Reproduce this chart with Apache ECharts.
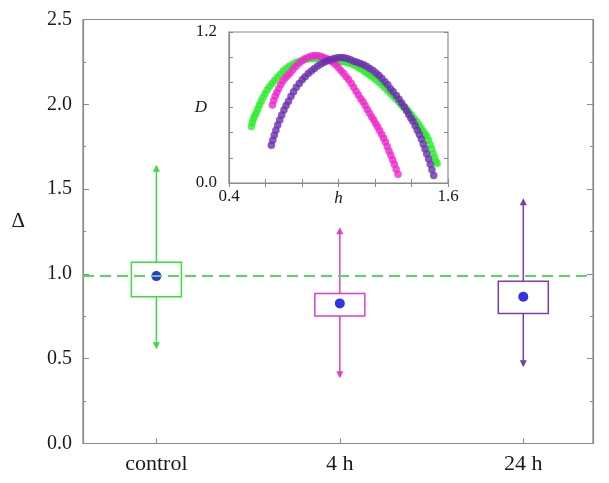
<!DOCTYPE html>
<html>
<head>
<meta charset="utf-8">
<script src="https://cdn.jsdelivr.net/npm/echarts@6/dist/echarts.min.js"></script>
<style>
  html, body { margin: 0; padding: 0; background: #fff; }
  #chart { width: 609px; height: 483px; }
</style>
</head>
<body>
<div id="chart"></div>
<script>
// main panel: groups at x = 1, 2, 3
const groups = ['control', '4 h', '24 h'];
const groupX = [1, 2, 3];
const whiskLow = [0.555, 0.385, 0.45];
const boxLow = [0.865, 0.752, 0.766];
const boxHigh = [1.068, 0.885, 0.957];
const whiskHigh = [1.643, 1.275, 1.446];
const meanVal = [0.987, 0.826, 0.865];
const refLevel = 0.99;
const boxColors = ['#3ddc3d', '#dd3fcc', '#7a3cb2'];

// inset: D versus h
const greenH = [0.523, 0.528, 0.534, 0.541, 0.550, 0.558, 0.567, 0.576, 0.586, 0.597, 0.609, 0.622, 0.636, 0.650, 0.665, 0.681, 0.697, 0.714, 0.731, 0.749, 0.767, 0.786, 0.805, 0.824, 0.843, 0.862, 0.881, 0.900, 0.919, 0.938, 0.957, 0.976, 0.995, 1.014, 1.033, 1.052, 1.070, 1.088, 1.106, 1.124, 1.141, 1.158, 1.174, 1.189, 1.205, 1.221, 1.237, 1.253, 1.269, 1.285, 1.300, 1.315, 1.330, 1.345, 1.359, 1.372, 1.386, 1.400, 1.413, 1.426, 1.439, 1.451, 1.463, 1.474, 1.484, 1.493, 1.502, 1.511, 1.519, 1.527, 1.534, 1.540];
const greenD = [0.45, 0.48, 0.51, 0.535, 0.56, 0.59, 0.62, 0.65, 0.68, 0.71, 0.74, 0.765, 0.79, 0.815, 0.84, 0.865, 0.89, 0.91, 0.928, 0.944, 0.957, 0.968, 0.977, 0.984, 0.988, 0.99, 0.99, 0.988, 0.985, 0.982, 0.978, 0.974, 0.97, 0.966, 0.961, 0.956, 0.948, 0.935, 0.92, 0.905, 0.888, 0.87, 0.855, 0.84, 0.82, 0.80, 0.78, 0.757, 0.735, 0.712, 0.69, 0.667, 0.645, 0.62, 0.60, 0.59, 0.565, 0.54, 0.515, 0.49, 0.465, 0.44, 0.415, 0.39, 0.37, 0.34, 0.305, 0.27, 0.235, 0.20, 0.17, 0.155];
const pinkH = [0.638, 0.645, 0.653, 0.662, 0.672, 0.683, 0.695, 0.708, 0.721, 0.735, 0.750, 0.766, 0.782, 0.799, 0.816, 0.834, 0.852, 0.870, 0.888, 0.906, 0.923, 0.939, 0.955, 0.970, 0.985, 1.000, 1.014, 1.028, 1.042, 1.056, 1.070, 1.083, 1.096, 1.109, 1.122, 1.134, 1.146, 1.158, 1.170, 1.182, 1.193, 1.204, 1.215, 1.226, 1.237, 1.247, 1.257, 1.267, 1.277, 1.287, 1.297, 1.306, 1.316, 1.326];
const pinkD = [0.62, 0.655, 0.69, 0.72, 0.75, 0.78, 0.81, 0.835, 0.855, 0.875, 0.90, 0.925, 0.95, 0.97, 0.987, 1.0, 1.01, 1.013, 1.012, 1.005, 0.995, 0.985, 0.972, 0.958, 0.94, 0.915, 0.893, 0.87, 0.845, 0.82, 0.79, 0.76, 0.73, 0.70, 0.67, 0.645, 0.615, 0.585, 0.555, 0.525, 0.50, 0.47, 0.445, 0.415, 0.385, 0.355, 0.325, 0.29, 0.255, 0.22, 0.185, 0.15, 0.11, 0.07];
const purpleH = [0.632, 0.640, 0.648, 0.657, 0.667, 0.678, 0.689, 0.701, 0.713, 0.726, 0.740, 0.754, 0.769, 0.785, 0.801, 0.817, 0.834, 0.851, 0.868, 0.886, 0.904, 0.922, 0.940, 0.958, 0.976, 0.994, 1.012, 1.030, 1.048, 1.066, 1.084, 1.102, 1.120, 1.138, 1.155, 1.172, 1.189, 1.206, 1.222, 1.238, 1.254, 1.270, 1.285, 1.300, 1.317, 1.332, 1.346, 1.360, 1.373, 1.385, 1.397, 1.408, 1.420, 1.432, 1.443, 1.454, 1.464, 1.474, 1.484, 1.494, 1.503, 1.512, 1.522];
const purpleD = [0.30, 0.34, 0.38, 0.42, 0.46, 0.50, 0.54, 0.58, 0.615, 0.65, 0.69, 0.725, 0.76, 0.79, 0.82, 0.845, 0.87, 0.89, 0.91, 0.93, 0.945, 0.96, 0.972, 0.982, 0.99, 0.995, 0.998, 0.996, 0.99, 0.98, 0.968, 0.96, 0.95, 0.94, 0.925, 0.91, 0.895, 0.875, 0.855, 0.83, 0.805, 0.78, 0.75, 0.725, 0.695, 0.665, 0.635, 0.605, 0.575, 0.545, 0.515, 0.49, 0.455, 0.42, 0.385, 0.35, 0.31, 0.27, 0.23, 0.19, 0.15, 0.105, 0.06];

const serif = 'Liberation Serif';
const axisGray = '#8a8a8a';
const txt = '#1a1a1a';

function pairs(xs, ys) {
  return xs.map((x, i) => [x, ys[i]]);
}

// box + whiskers with arrow heads
function renderBox(params, api) {
  const x = api.value(0);
  const lo = api.coord([x, api.value(1)]);
  const b0 = api.coord([x, api.value(2)]);
  const b1 = api.coord([x, api.value(3)]);
  const hi = api.coord([x, api.value(4)]);
  const color = boxColors[params.dataIndex];
  const half = 25, aw = 3.5, ah = 7;
  const line = { stroke: color, lineWidth: 1.5 };
  return {
    type: 'group',
    children: [
      { type: 'line', shape: { x1: lo[0], y1: lo[1] - 2, x2: b0[0], y2: b0[1] }, style: line },
      { type: 'line', shape: { x1: hi[0], y1: hi[1] + 2, x2: b1[0], y2: b1[1] }, style: line },
      {
        type: 'rect',
        shape: { x: b1[0] - half, y: b1[1], width: half * 2, height: b0[1] - b1[1] },
        style: { fill: 'none', stroke: color, lineWidth: 1.5 }
      },
      {
        type: 'polygon',
        shape: { points: [[hi[0], hi[1]], [hi[0] - aw, hi[1] + ah], [hi[0] + aw, hi[1] + ah]] },
        style: { fill: color }
      },
      {
        type: 'polygon',
        shape: { points: [[lo[0], lo[1]], [lo[0] - aw, lo[1] - ah], [lo[0] + aw, lo[1] - ah]] },
        style: { fill: color }
      }
    ]
  };
}

const chart = echarts.init(document.getElementById('chart'));
chart.setOption({
  animation: false,
  backgroundColor: '#fff',
  grid: [
    { left: 83, right: 16, top: 19.5, bottom: 39.5, show: true, borderColor: axisGray, borderWidth: 1.2, backgroundColor: 'transparent' },
    { left: 229, right: 161, top: 32, bottom: 300, show: true, borderColor: axisGray, borderWidth: 1.2, backgroundColor: '#fff' }
  ],
  xAxis: [
    {
      gridIndex: 0, type: 'value', min: 0.6, max: 3.38,
      axisLine: { lineStyle: { color: axisGray, width: 1.2 } },
      axisTick: { inside: true, length: 5, customValues: groupX, lineStyle: { color: axisGray } },
      axisLabel: { customValues: groupX, formatter: v => groups[Math.round(v) - 1], color: txt, fontFamily: serif, fontSize: 22, margin: 10 },
      splitLine: { show: false }
    },
    {
      gridIndex: 1, type: 'value', min: 0.4, max: 1.6, interval: 0.2,
      name: 'h', nameLocation: 'middle', nameGap: 7, nameMoveOverlap: false,
      nameTextStyle: { fontStyle: 'italic', fontFamily: serif, fontSize: 17, color: txt, verticalAlign: 'top' },
      axisLine: { lineStyle: { color: axisGray, width: 1.2 } },
      axisTick: { inside: true, length: 4, lineStyle: { color: axisGray } },
      axisLabel: { customValues: [0.4, 1.6], formatter: v => v.toFixed(1), color: txt, fontFamily: serif, fontSize: 17, margin: 5 },
      splitLine: { show: false }
    },
    {
      gridIndex: 1, type: 'value', min: 0.4, max: 1.6, interval: 0.2, position: 'top',
      axisLine: { show: false },
      axisTick: { inside: true, length: 4, lineStyle: { color: axisGray } },
      axisLabel: { show: false },
      splitLine: { show: false }
    }
  ],
  yAxis: [
    {
      gridIndex: 0, type: 'value', min: 0, max: 2.5, interval: 0.5,
      name: 'Δ', nameLocation: 'middle', nameGap: 58, nameRotate: 0, nameMoveOverlap: false,
      nameTextStyle: { fontFamily: serif, fontSize: 21, color: txt, verticalAlign: 'bottom' },
      axisLine: { show: true, lineStyle: { color: axisGray, width: 1.2 } },
      axisTick: { inside: true, length: 6, lineStyle: { color: axisGray } },
      minorTick: { show: true, splitNumber: 2, length: 3, lineStyle: { color: axisGray } },
      axisLabel: { formatter: v => v.toFixed(1), color: txt, fontFamily: serif, fontSize: 20, margin: 11 },
      splitLine: { show: false }
    },
    {
      gridIndex: 0, type: 'value', min: 0, max: 2.5, interval: 0.5, position: 'right',
      axisLine: { show: true, lineStyle: { color: axisGray, width: 1.2 } },
      axisTick: { inside: true, length: 6, lineStyle: { color: axisGray } },
      minorTick: { show: true, splitNumber: 2, length: 3, lineStyle: { color: axisGray } },
      axisLabel: { show: false },
      splitLine: { show: false }
    },
    {
      gridIndex: 1, type: 'value', min: 0, max: 1.2, interval: 0.2,
      name: 'D', nameLocation: 'middle', nameGap: 22, nameRotate: 0, nameMoveOverlap: false,
      nameTextStyle: { fontStyle: 'italic', fontFamily: serif, fontSize: 17, color: txt },
      axisLine: { show: true, lineStyle: { color: axisGray, width: 1.2 } },
      axisTick: { inside: true, length: 4, lineStyle: { color: axisGray } },
      axisLabel: { customValues: [0, 1.2], formatter: v => v.toFixed(1), color: txt, fontFamily: serif, fontSize: 17, margin: 12 },
      splitLine: { show: false }
    },
    {
      gridIndex: 1, type: 'value', min: 0, max: 1.2, interval: 0.2, position: 'right',
      axisLine: { show: false },
      axisTick: { inside: true, length: 4, lineStyle: { color: axisGray } },
      axisLabel: { show: false },
      splitLine: { show: false }
    }
  ],
  series: [
    {
      type: 'custom', xAxisIndex: 0, yAxisIndex: 0,
      renderItem: renderBox,
      encode: { x: 0, y: [1, 2, 3, 4] },
      data: groupX.map((x, i) => [x, whiskLow[i], boxLow[i], boxHigh[i], whiskHigh[i]]),
      z: 2
    },
    {
      type: 'line', xAxisIndex: 0, yAxisIndex: 0, data: [], silent: true,
      markLine: {
        symbol: 'none', silent: true, label: { show: false },
        lineStyle: { color: '#5ad85a', type: [11, 6], width: 2 },
        data: [{ yAxis: refLevel }]
      },
      z: 3
    },
    {
      type: 'scatter', xAxisIndex: 0, yAxisIndex: 0,
      data: pairs(groupX, meanVal),
      symbolSize: 10, itemStyle: { color: '#0000e0' }, z: 4
    },
    {
      type: 'scatter', xAxisIndex: 1, yAxisIndex: 2,
      data: pairs(greenH, greenD), symbolSize: 7.5, itemStyle: { color: '#2cee2c' }, z: 5
    },
    {
      type: 'scatter', xAxisIndex: 1, yAxisIndex: 2,
      data: pairs(pinkH, pinkD), symbolSize: 7.5, itemStyle: { color: '#f028cc' }, z: 6
    },
    {
      type: 'scatter', xAxisIndex: 1, yAxisIndex: 2,
      data: pairs(purpleH, purpleD), symbolSize: 7.5, itemStyle: { color: '#6c2eae' }, z: 7
    }
  ]
});
</script>
</body>
</html>
